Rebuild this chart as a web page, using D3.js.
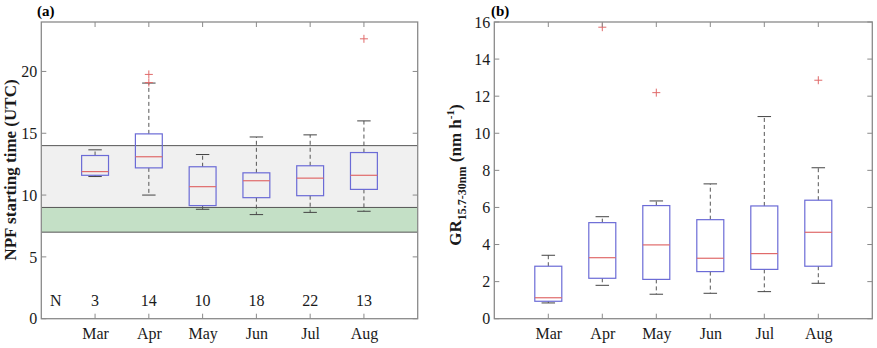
<!DOCTYPE html>
<html><head><meta charset="utf-8">
<script src="https://cdn.jsdelivr.net/npm/d3@7/dist/d3.min.js"></script>
<style>
body{margin:0;background:#fff;}
svg{font-family:"Liberation Serif","Times New Roman",serif;}
</style></head>
<body>
<svg id="c" width="877" height="348"></svg>
<script>
const months = ["Mar","Apr","May","Jun","Jul","Aug"];
// Panel (a): NPF starting time (UTC)
const aWhiskerLow  = [11.5, 10.0, 8.85, 8.42, 8.6, 8.69];
const aQ1          = [11.6, 12.2, 9.15, 9.79, 9.95, 10.46];
const aMedian      = [11.9, 13.1, 10.68, 11.16, 11.37, 11.6];
const aQ3          = [13.2, 14.95, 12.29, 11.8, 12.37, 13.44];
const aWhiskerHigh = [13.66, 19.06, 13.28, 14.7, 14.87, 16.0];
const aOutliers    = [[], [19.1, 19.76], [], [], [], [22.64]];
const aCounts      = [3, 14, 10, 18, 22, 13];
const aYTicks      = [0, 5, 10, 15, 20];
const grayBand     = [9, 14];
const greenBand    = [7, 9];
// Panel (b): GR 15.7-30nm
const bWhiskerLow  = [0.85, 1.8, 1.32, 1.37, 1.46, 1.91];
const bQ1          = [0.94, 2.18, 2.12, 2.54, 2.66, 2.83];
const bMedian      = [1.13, 3.29, 3.98, 3.26, 3.51, 4.66];
const bQ3          = [2.83, 5.18, 6.1, 5.34, 6.08, 6.39];
const bWhiskerHigh = [3.42, 5.5, 6.35, 7.27, 10.9, 8.14];
const bOutliers    = [[], [15.72], [12.19], [], [], [12.86]];
const bYTicks      = [0, 2, 4, 6, 8, 10, 12, 14, 16];

const svg = d3.select("#c");
const axisCol = "#8a8a8a";
const boxCol = "#6b6bd6";
const medCol = "#e06a6a";

function panel(opts){
  const {left,right,top,bottom,ymax,yticks,lo,q1,med,q3,hi,outl} = opts;
  const g = svg.append("g");
  const x = d3.scaleLinear().domain([0,7]).range([left,right]);
  const y = d3.scaleLinear().domain([0,ymax]).range([bottom,top]);
  if(opts.bands){ opts.bands(g,x,y); }
  months.forEach((m,i)=>{
    const cx = x(i+1), hw = (x(1)-x(0))*0.25, cw=(x(1)-x(0))*0.125;
    const dash = "4,3";
    g.append("line").attr("x1",cx).attr("x2",cx).attr("y1",y(q3[i])).attr("y2",y(hi[i]))
      .attr("stroke","#555").attr("stroke-width",1).attr("stroke-dasharray",dash);
    g.append("line").attr("x1",cx).attr("x2",cx).attr("y1",y(q1[i])).attr("y2",y(lo[i]))
      .attr("stroke","#555").attr("stroke-width",1).attr("stroke-dasharray",dash);
    g.append("line").attr("x1",cx-cw).attr("x2",cx+cw).attr("y1",y(hi[i])).attr("y2",y(hi[i]))
      .attr("stroke","#444").attr("stroke-width",1);
    g.append("line").attr("x1",cx-cw).attr("x2",cx+cw).attr("y1",y(lo[i])).attr("y2",y(lo[i]))
      .attr("stroke","#444").attr("stroke-width",1);
    g.append("rect").attr("x",cx-hw).attr("width",2*hw).attr("y",y(q3[i])).attr("height",y(q1[i])-y(q3[i]))
      .attr("fill","none").attr("stroke",boxCol).attr("stroke-width",1.2);
    g.append("line").attr("x1",cx-hw).attr("x2",cx+hw).attr("y1",y(med[i])).attr("y2",y(med[i]))
      .attr("stroke",medCol).attr("stroke-width",1.2);
    outl[i].forEach(v=>{
      g.append("path").attr("d",`M${cx-4},${y(v)}h8M${cx},${y(v)-4}v8`)
        .attr("stroke",medCol).attr("stroke-width",1).attr("fill","none");
    });
  });
  const tl = 5;
  const ax = g.append("g").attr("stroke",axisCol).attr("stroke-width",1.3).attr("fill","none");
  ax.append("rect").attr("x",left).attr("y",top).attr("width",right-left).attr("height",bottom-top);
  yticks.forEach(t=>{
    ax.append("line").attr("x1",left).attr("x2",left+tl).attr("y1",y(t)).attr("y2",y(t)).attr("stroke-width",1);
    ax.append("line").attr("x1",right).attr("x2",right-tl).attr("y1",y(t)).attr("y2",y(t)).attr("stroke-width",1);
  });
  months.forEach((m,i)=>{
    ax.append("line").attr("x1",x(i+1)).attr("x2",x(i+1)).attr("y1",bottom).attr("y2",bottom-tl).attr("stroke-width",1);
    ax.append("line").attr("x1",x(i+1)).attr("x2",x(i+1)).attr("y1",top).attr("y2",top+tl).attr("stroke-width",1);
  });
  const yAxis = d3.axisLeft(y).tickValues(yticks).tickSize(0).tickPadding(4);
  const ya = g.append("g").attr("transform",`translate(${left},0)`).call(yAxis);
  ya.select(".domain").remove();
  ya.selectAll("text").attr("font-size",16).attr("fill","#1a1a1a").attr("font-family","Liberation Serif");
  const xAxis = d3.axisBottom(x).tickValues(months.map((m,i)=>i+1)).tickFormat((d)=>months[d-1]).tickSize(0).tickPadding(9);
  const xa = g.append("g").attr("transform",`translate(0,${bottom})`).call(xAxis);
  xa.select(".domain").remove();
  xa.selectAll("text").attr("font-size",16).attr("fill","#1a1a1a").attr("font-family","Liberation Serif");
  return {g,x,y};
}

// Panel a
const pa = panel({left:41.3,right:417.7,top:22,bottom:318.7,ymax:24,yticks:aYTicks,
  lo:aWhiskerLow,q1:aQ1,med:aMedian,q3:aQ3,hi:aWhiskerHigh,outl:aOutliers,
  bands:(g,x,y)=>{
    g.append("rect").attr("x",x(0)).attr("width",x(7)-x(0)).attr("y",y(grayBand[1])).attr("height",y(grayBand[0])-y(grayBand[1]))
      .attr("fill","#f0f0f0");
    g.append("rect").attr("x",x(0)).attr("width",x(7)-x(0)).attr("y",y(greenBand[1])).attr("height",y(greenBand[0])-y(greenBand[1]))
      .attr("fill","#c4e0c6");
    [grayBand[1],grayBand[0],greenBand[0]].forEach(v=>{
      g.append("line").attr("x1",x(0)).attr("x2",x(7)).attr("y1",y(v)).attr("y2",y(v)).attr("stroke","#555").attr("stroke-width",1);
    });
  }});
pa.g.append("text").attr("x",50).attr("y",306).attr("font-size",16).attr("fill","#1a1a1a").text("N");
months.forEach((m,i)=>{
  pa.g.append("text").attr("x",pa.x(i+1)).attr("y",306).attr("text-anchor","middle").attr("font-size",16).attr("fill","#1a1a1a").text(aCounts[i]);
});
svg.append("text").attr("x",37).attr("y",16).attr("font-size",15).attr("font-weight","bold").text("(a)");
svg.append("text").attr("transform","translate(16,170) rotate(-90)").attr("text-anchor","middle")
  .attr("font-size",17).attr("font-weight","bold").attr("fill","#1a1a1a").text("NPF starting time (UTC)");

// Panel b
const pb = panel({left:494.3,right:872.3,top:22,bottom:318.7,ymax:16,yticks:bYTicks,
  lo:bWhiskerLow,q1:bQ1,med:bMedian,q3:bQ3,hi:bWhiskerHigh,outl:bOutliers});
svg.append("text").attr("x",491).attr("y",16).attr("font-size",15).attr("font-weight","bold").text("(b)");
const yl = svg.append("text").attr("transform","translate(461,175) rotate(-90)").attr("text-anchor","middle")
  .attr("font-size",17).attr("font-weight","bold").attr("fill","#1a1a1a");
yl.append("tspan").text("GR");
yl.append("tspan").attr("font-size",12).attr("dy",5).text("15.7-30nm");
yl.append("tspan").attr("dy",-5).text(" (nm h");
yl.append("tspan").attr("font-size",11).attr("dy",-7).text("-1");
yl.append("tspan").attr("dy",7).text(")");
</script>
</body></html>
